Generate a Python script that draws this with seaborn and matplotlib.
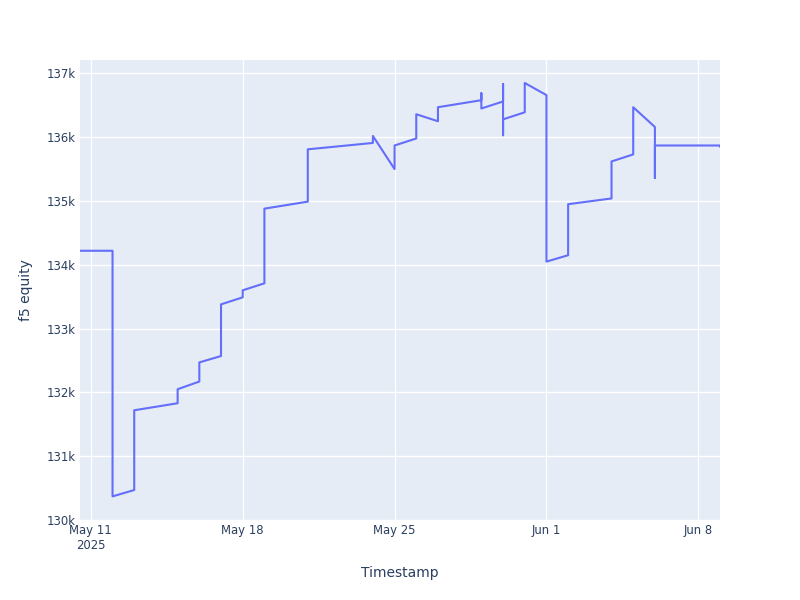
"""Equity curve for f5, drawn in a plotly-like style with seaborn."""

import matplotlib
matplotlib.use("Agg")
import matplotlib.pyplot as plt
import matplotlib.ticker as mticker
import pandas as pd
import seaborn as sns

# ---- data ----
timestamps = [
    "2025-05-10 12:00",
    "2025-05-12 00:00", "2025-05-12 00:00",
    "2025-05-13 00:00", "2025-05-13 00:00",
    "2025-05-15 00:00", "2025-05-15 00:00",
    "2025-05-16 00:00", "2025-05-16 00:00",
    "2025-05-17 00:00", "2025-05-17 00:00",
    "2025-05-18 00:00", "2025-05-18 00:00",
    "2025-05-19 00:00", "2025-05-19 00:00",
    "2025-05-21 00:00", "2025-05-21 00:00",
    "2025-05-24 00:00", "2025-05-24 00:00",
    "2025-05-25 00:00", "2025-05-25 00:00",
    "2025-05-26 00:00", "2025-05-26 00:00",
    "2025-05-27 00:00", "2025-05-27 00:00",
    "2025-05-29 00:00", "2025-05-29 00:00", "2025-05-29 00:00",
    "2025-05-30 00:00", "2025-05-30 00:00", "2025-05-30 00:00", "2025-05-30 00:00",
    "2025-05-31 00:00", "2025-05-31 00:00",
    "2025-06-01 00:00", "2025-06-01 00:00",
    "2025-06-02 00:00", "2025-06-02 00:00",
    "2025-06-04 00:00", "2025-06-04 00:00",
    "2025-06-05 00:00", "2025-06-05 00:00",
    "2025-06-06 00:00", "2025-06-06 00:00", "2025-06-06 00:00",
    "2025-06-09 00:00", "2025-06-09 00:00",
]
equity = [
    134220,
    134220, 130370,
    130470, 131720,
    131830, 132050,
    132170, 132470,
    132570, 133380,
    133490, 133600,
    133710, 134880,
    134990, 135810,
    135910, 136020,
    135500, 135870,
    135980, 136360,
    136250, 136470,
    136580, 136690, 136450,
    136560, 136830, 136030, 136280,
    136390, 136850,
    136660, 134050,
    134150, 134950,
    135040, 135620,
    135730, 136470,
    136160, 135360, 135870,
    135870, 135850,
]

x_ticks = ["2025-05-11", "2025-05-18", "2025-05-25", "2025-06-01", "2025-06-08"]
x_tick_labels = ["May 11\n2025", "May 18", "May 25", "Jun 1", "Jun 8"]
y_ticks = [130000, 131000, 132000, 133000, 134000, 135000, 136000, 137000]

# ---- plotly-ish palette ----
BG = "#E5ECF6"
TEXT = "#2a3f5f"
LINE = "#636EFA"

df = pd.DataFrame({
    "Timestamp": pd.to_datetime(timestamps, format="%Y-%m-%d %H:%M"),
    "f5 equity": equity,
})

sns.set_theme(style="darkgrid", rc={
    "axes.facecolor": BG,
    "grid.color": "white",
    "grid.linewidth": 1.0,
})
plt.rcParams["font.family"] = ["DejaVu Sans"]

fig, ax = plt.subplots(figsize=(8, 6), dpi=100)
fig.subplots_adjust(left=0.1, right=0.9, top=0.9, bottom=1 - 520 / 600)

sns.lineplot(
    data=df,
    x="Timestamp",
    y="f5 equity",
    estimator=None,
    sort=False,
    color=LINE,
    linewidth=1.5,
    ax=ax,
)

ax.set_xlim(df["Timestamp"].iloc[0], df["Timestamp"].iloc[-1])
ax.set_ylim(130000, 137210)

ax.set_xticks(pd.to_datetime(x_ticks))
ax.set_xticklabels(x_tick_labels)
ax.set_yticks(y_ticks)
ax.yaxis.set_major_formatter(mticker.FuncFormatter(lambda v, _: f"{v / 1000:.0f}k"))

ax.tick_params(axis="both", length=0, labelsize=8.4, colors=TEXT)
ax.tick_params(axis="x", pad=3)
ax.tick_params(axis="y", pad=3)
for spine in ax.spines.values():
    spine.set_visible(False)

ax.set_xlabel("Timestamp", fontsize=10, color=TEXT, labelpad=10)
ax.set_ylabel("f5 equity", fontsize=10, color=TEXT, labelpad=10)

fig.savefig("out.png", dpi=100, facecolor="white")
plt.close(fig)
